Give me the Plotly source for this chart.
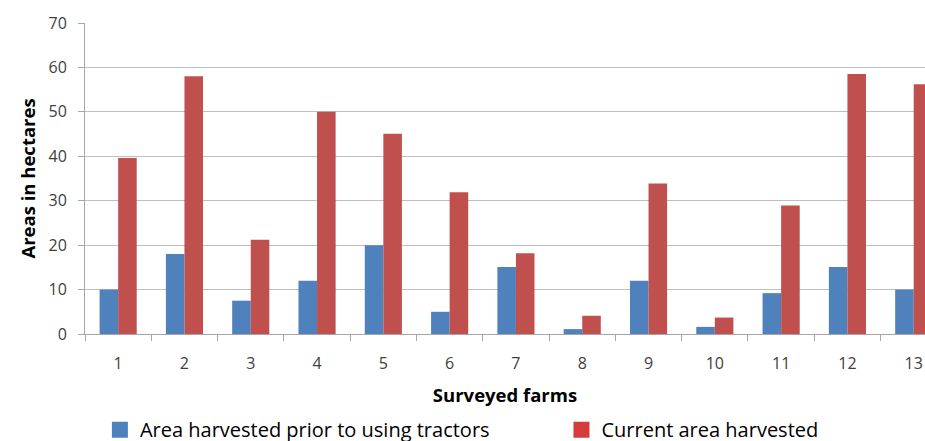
import plotly.graph_objects as go

farms = [str(i) for i in range(1, 14)]
prior = [10, 18, 7.5, 12, 20, 5, 15.1, 1.1, 12, 1.6, 9.2, 15.1, 10]
current = [39.6, 58, 21.2, 50, 45.1, 31.9, 18.2, 4.1, 33.9, 3.7, 28.9, 58.5, 56.2]
series_names = ["Area harvested prior to using tractors", "Current area harvested"]
bar_colors = ["#4F81BD", "#C0504D"]
legend_colors = ["#4F81BD", "#D43B3B"]

FONT = "Open Sans"

fig = go.Figure()
for vals, name, col in zip([prior, current], series_names, bar_colors):
    fig.add_trace(go.Bar(x=farms, y=vals, name=name, showlegend=False,
                         marker=dict(color=col, line=dict(width=0))))
# legend entries (square swatches like the original)
for i, (name, col) in enumerate(zip(series_names, legend_colors)):
    fig.add_trace(go.Scatter(x=[None], y=[None], mode="markers", name=name,
                             marker=dict(symbol="square", size=20, color=col),
                             legend="legend" if i == 0 else "legend2"))

legend_common = dict(orientation="h", xref="container", yref="container",
                     yanchor="top", xanchor="left", y=0.070,
                     font=dict(family=FONT, size=20, color="#000000"),
                     itemsizing="trace", itemwidth=30,
                     bgcolor="rgba(0,0,0,0)")

fig.update_layout(
    width=925, height=441,
    margin=dict(l=85, r=0, t=23, b=107, autoexpand=False),
    paper_bgcolor="white", plot_bgcolor="white",
    barmode="group", bargap=0.44, bargroupgap=0,
    font=dict(family=FONT, size=17, color="#404040"),
    showlegend=True,
    legend=dict(x=0.108, **legend_common),
    legend2=dict(x=0.607, **legend_common),
)
fig.update_xaxes(
    type="category", range=[-0.5, 12.17], automargin=False,
    showline=True, linecolor="#A6A6A6", linewidth=1,
    ticks="outside", tickson="boundaries", ticklen=6, tickcolor="#A6A6A6",
    ticklabelstandoff=15,
    showgrid=False,
    tickfont=dict(family=FONT, size=16, color="#404040"),
    title=dict(text="<b>Surveyed farms</b>", font=dict(family=FONT, size=18.5, color="#000000"), standoff=15),
)
fig.update_yaxes(
    range=[0, 70], dtick=10, automargin=False,
    showline=True, linecolor="#A6A6A6", linewidth=1,
    ticks="outside", ticklen=6, tickcolor="#A6A6A6",
    ticklabelstandoff=8,
    showgrid=True, gridcolor="#BFBFBF", gridwidth=1,
    zeroline=False,
    tickfont=dict(family=FONT, size=16, color="#404040"),
    title=dict(text="<b>Areas in hectares</b>", font=dict(family=FONT, size=18.5, color="#000000"), standoff=8),
)

fig.write_html(
    "out.html",
    config={"displayModeBar": False},
    post_script="document.body.style.margin='0';document.body.style.overflow='hidden';",
)
